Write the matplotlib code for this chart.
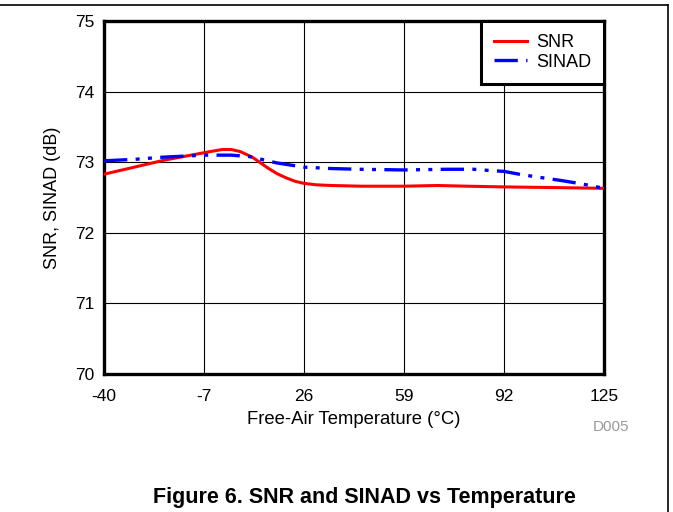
import matplotlib
matplotlib.use("Agg")
import matplotlib.pyplot as plt
from matplotlib.lines import Line2D

plt.rcParams["font.family"] = ["Liberation Sans", "DejaVu Sans"]
plt.rcParams["axes.unicode_minus"] = False

# values
temp_snr = [-40, -30, -20, -10, -5, -1, 2, 5, 9, 14, 17, 20, 23, 26, 30, 35, 45, 59, 70, 80, 92, 110, 125]
snr = [72.83, 72.93, 73.03, 73.11, 73.15, 73.18, 73.18, 73.15, 73.07, 72.92, 72.84, 72.78, 72.73, 72.70, 72.68, 72.67, 72.66, 72.66, 72.67, 72.66, 72.65, 72.64, 72.63]

temp_sinad = [-40, -30, -21, -7, 2, 8, 12, 17, 26, 35, 44, 59, 73, 82, 88, 92, 97, 103, 111, 118, 125]
sinad = [73.02, 73.04, 73.07, 73.10, 73.10, 73.08, 73.04, 72.99, 72.93, 72.91, 72.90, 72.89, 72.90, 72.90, 72.88, 72.87, 72.83, 72.79, 72.74, 72.69, 72.63]

x_ticks = [-40, -7, 26, 59, 92, 125]
x_labels = ["-40", "-7", "26", "59", "92", "125"]
y_ticks = [70, 71, 72, 73, 74, 75]

fig = plt.figure(figsize=(6.73, 5.12), dpi=100)
ax = fig.add_axes([104 / 673, 1 - 374 / 512, 500 / 673, 353 / 512])

ax.plot(temp_snr, snr, color="#ff0000", lw=2.2, label="SNR", zorder=3)
ax.plot(temp_sinad, sinad, color="#0000ff", lw=2.4,
        linestyle=(0, (7, 2.5, 1.2, 2.5, 1.2, 2.5)), label="SINAD", zorder=3)

ax.set_xlim(-40, 125)
ax.set_ylim(70, 75)
ax.set_xticks(x_ticks)
ax.set_xticklabels(x_labels)
ax.set_yticks(y_ticks)
ax.tick_params(length=0, labelsize=12.5)
ax.tick_params(axis="x", pad=11)
ax.tick_params(axis="y", pad=7)
ax.grid(True, color="black", lw=0.8)
ax.set_axisbelow(True)
for s in ax.spines.values():
    s.set_linewidth(2.4)

ax.set_xlabel("Free-Air Temperature (\u00b0C)", fontsize=13.3, labelpad=5)
ax.set_ylabel("SNR, SINAD (dB)", fontsize=13, labelpad=10)

leg = ax.legend(loc="upper right", borderaxespad=0, fontsize=13, fancybox=False,
                framealpha=1, edgecolor="black", handlelength=1.8,
                handletextpad=0.5, borderpad=0.72, labelspacing=0.15)
leg.get_frame().set_linewidth(2.2)

fig.text(611.5 / 673, 1 - 427 / 512, "D005", color="#999999", fontsize=11,
         ha="center", va="center")
fig.text(364 / 673, 1 - 497 / 512, "Figure 6. SNR and SINAD vs Temperature",
         fontsize=15.5, fontweight="bold", ha="center", va="center")

# page frame lines
fig.add_artist(Line2D([0, 668 / 673], [1 - 4.5 / 512, 1 - 4.5 / 512],
                      color="black", lw=1.2, transform=fig.transFigure))
fig.add_artist(Line2D([668 / 673, 668 / 673], [0, 1 - 4.5 / 512],
                      color="black", lw=1.2, transform=fig.transFigure))

fig.savefig("out.png", dpi=100)
